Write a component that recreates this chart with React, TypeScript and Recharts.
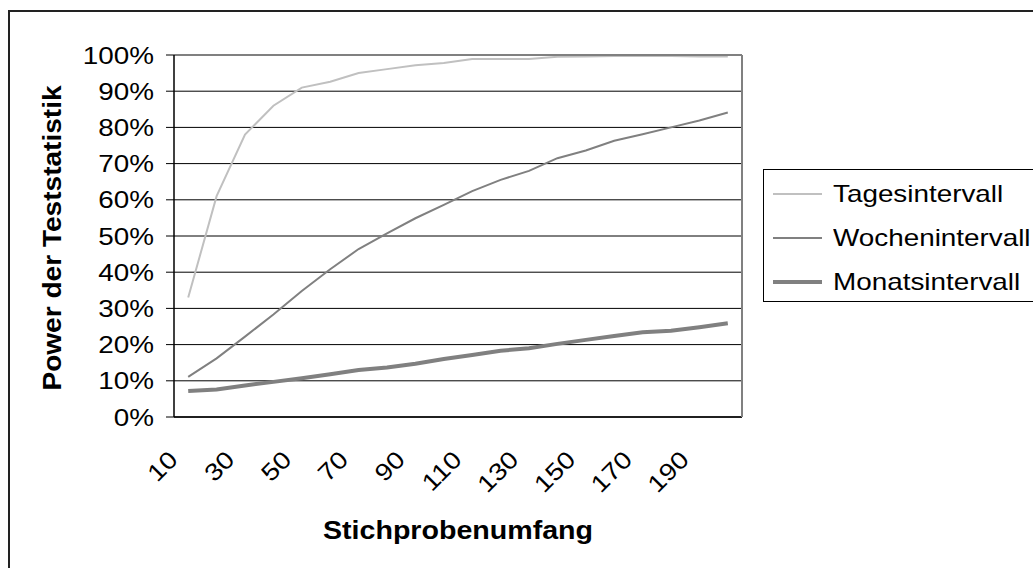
import { LineChart, Line, XAxis, YAxis, CartesianGrid, Legend } from "recharts";

const FONT = '"Liberation Sans", Arial, sans-serif';
const SX = 1.16; // glyphs in the source are wider than Arial

const sampleSizes = [10, 20, 30, 40, 50, 60, 70, 80, 90, 100, 110, 120, 130, 140, 150, 160, 170, 180, 190, 200];
const tagesintervall = [0.33, 0.61, 0.78, 0.86, 0.91, 0.926, 0.95, 0.961, 0.972, 0.978, 0.989, 0.989, 0.989, 0.995, 0.996, 0.997, 0.997, 0.997, 0.996, 0.996];
const wochenintervall = [0.111, 0.162, 0.222, 0.283, 0.348, 0.408, 0.464, 0.507, 0.549, 0.586, 0.624, 0.655, 0.68, 0.715, 0.736, 0.763, 0.781, 0.8, 0.819, 0.841];
const monatsintervall = [0.072, 0.076, 0.087, 0.097, 0.107, 0.118, 0.13, 0.137, 0.147, 0.16, 0.171, 0.183, 0.19, 0.202, 0.213, 0.224, 0.234, 0.238, 0.248, 0.259];

const xLabelTicks = [10, 30, 50, 70, 90, 110, 130, 150, 170, 190];
const xBoundaryTicks = [5, 15, 25, 35, 45, 55, 65, 75, 85, 95, 105, 115, 125, 135, 145, 155, 165, 175, 185, 195, 205];
const yTicks = [0, 0.1, 0.2, 0.3, 0.4, 0.5, 0.6, 0.7, 0.8, 0.9, 1];

const series = [
  { key: "tages", name: "Tagesintervall", color: "#c0c0c0", width: 2 },
  { key: "wochen", name: "Wochenintervall", color: "#808080", width: 2 },
  { key: "monats", name: "Monatsintervall", color: "#808080", width: 4 },
];

const rows = sampleSizes.map((n, i) => ({
  n,
  tages: tagesintervall[i],
  wochen: wochenintervall[i],
  monats: monatsintervall[i],
}));

const YTick = ({ x, y, payload }: any) => (
  <g transform={`translate(${x},${y}) scale(${SX},1)`}>
    <text textAnchor="end" dy="0.36em" fontSize={24} fontFamily={FONT} fill="#000">
      {Math.round(payload.value * 100)}%
    </text>
  </g>
);

const XTick = ({ x, y, payload }: any) => (
  <g transform={`translate(${x - 21},${y + 24}) rotate(-45) scale(${SX},1)`}>
    <text textAnchor="end" dy="0.71em" fontSize={24} fontFamily={FONT} fill="#000">
      {payload.value}
    </text>
  </g>
);

const XTitle = (props: any) => {
  const vb = props.viewBox;
  return (
    <g transform={`translate(${vb.x + vb.width / 2},${vb.y + 122}) scale(1.1,1)`}>
      <text textAnchor="middle" fontSize={26} fontWeight="bold" fontFamily={FONT} fill="#000">
        Stichprobenumfang
      </text>
    </g>
  );
};

const YTitle = (props: any) => {
  const vb = props.viewBox;
  return (
    <g transform={`translate(${vb.x - 112},${vb.y + vb.height / 2 + 2}) rotate(-90) scale(1.08,1)`}>
      <text textAnchor="middle" fontSize={26} fontWeight="bold" fontFamily={FONT} fill="#000">
        Power der Teststatistik
      </text>
    </g>
  );
};

const LegendBox = () => (
  <div
    style={{
      position: "relative",
      width: 300,
      height: 133,
      boxSizing: "border-box",
      border: "1px solid #000",
      background: "#fff",
    }}
  >
    {series.map((s, i) => (
      <div
        key={s.key}
        style={{ position: "absolute", left: 9, top: 9 + 44 * i, height: 30, display: "flex", alignItems: "center" }}
      >
        <div style={{ width: 49, height: s.width, background: s.color }} />
        <div
          style={{
            marginLeft: 11,
            fontSize: 24,
            fontFamily: FONT,
            color: "#000",
            whiteSpace: "nowrap",
            transform: `scaleX(${SX})`,
            transformOrigin: "left center",
          }}
        >
          {s.name}
        </div>
      </div>
    ))}
  </div>
);

export default function App() {
  return (
    <div style={{ position: "absolute", left: 0, top: 0, width: 1033, height: 568, overflow: "hidden", background: "#fff" }}>
      <div
        style={{
          position: "absolute",
          left: 8,
          top: 10,
          width: 1100,
          height: 700,
          borderLeft: "2px solid #222",
          borderTop: "2px solid #222",
        }}
      />
      <div style={{ position: "absolute", left: 0, top: 0 }}>
        <LineChart width={1033} height={568} data={rows} margin={{ top: 54, right: 290, bottom: 149, left: 173 }}>
          <CartesianGrid vertical={false} stroke="#000" strokeWidth={1} />
          <XAxis
            dataKey="n"
            type="number"
            domain={[5, 205]}
            ticks={xLabelTicks}
            interval={0}
            height={1}
            tickLine={false}
            tickSize={6}
            tickMargin={2}
            axisLine={{ stroke: "#000", strokeWidth: 1.5 }}
            tick={<XTick />}
            label={{ content: <XTitle /> }}
          />
          <XAxis
            xAxisId="marks"
            type="number"
            domain={[5, 205]}
            ticks={xBoundaryTicks}
            interval={0}
            height={1}
            tick={false}
            tickSize={6}
            tickLine={{ stroke: "#000" }}
            axisLine={false}
          />
          <XAxis
            xAxisId="top"
            orientation="top"
            type="number"
            domain={[5, 205]}
            height={1}
            tick={false}
            tickLine={false}
            axisLine={{ stroke: "#808080", strokeWidth: 2 }}
          />
          <YAxis
            domain={[0, 1]}
            ticks={yTicks}
            interval={0}
            width={1}
            tickSize={8}
            tickMargin={12}
            tickLine={{ stroke: "#000" }}
            axisLine={{ stroke: "#000", strokeWidth: 1.5 }}
            tick={<YTick />}
            label={{ content: <YTitle /> }}
          />
          <YAxis
            yAxisId="frame"
            orientation="right"
            domain={[0, 1]}
            width={1}
            tick={false}
            tickLine={false}
            axisLine={{ stroke: "#808080", strokeWidth: 2 }}
          />
          <Legend
            verticalAlign="middle"
            align="center"
            layout="horizontal"
            content={<LegendBox />}
            wrapperStyle={{ left: 763, top: 169, width: 300, height: 133, margin: 0 }}
          />
          {series.map((s) => (
            <Line
              key={s.key}
              type="linear"
              dataKey={s.key}
              name={s.name}
              stroke={s.color}
              strokeWidth={s.width}
              dot={false}
              activeDot={false}
              isAnimationActive={false}
            />
          ))}
        </LineChart>
      </div>
    </div>
  );
}
